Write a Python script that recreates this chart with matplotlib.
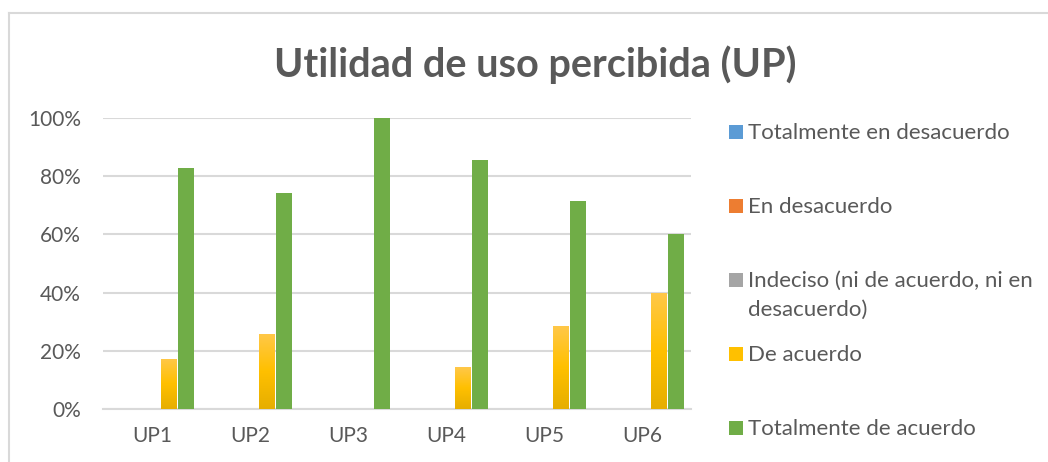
import matplotlib.pyplot as plt
import numpy as np
from matplotlib.lines import Line2D
from matplotlib.patches import Rectangle
from matplotlib.ticker import PercentFormatter

categories = ["UP1", "UP2", "UP3", "UP4", "UP5", "UP6"]

series_names = [
    "Totalmente en desacuerdo",
    "En desacuerdo",
    "Indeciso (ni de acuerdo, ni en\ndesacuerdo)",
    "De acuerdo",
    "Totalmente de acuerdo",
]

totalmente_desacuerdo = [0, 0, 0, 0, 0, 0]
en_desacuerdo = [0, 0, 0, 0, 0, 0]
indeciso = [0, 0, 0, 0, 0, 0]
de_acuerdo = [17.24, 25.93, 0, 14.29, 28.57, 40.0]
totalmente_acuerdo = [82.76, 74.07, 100, 85.71, 71.43, 60.0]

series_values = [
    totalmente_desacuerdo,
    en_desacuerdo,
    indeciso,
    de_acuerdo,
    totalmente_acuerdo,
]

colors = ["#5B9BD5", "#ED7D31", "#A5A5A5", "#FFC000", "#70AD47"]
text_color = "#595959"
grid_color = "#D9D9D9"

plt.rcParams["font.family"] = ["Lato", "DejaVu Sans"]

fig = plt.figure(figsize=(10.48, 4.62), dpi=100)
ax = fig.add_axes([0.0983, 0.1147, 0.5611, 0.6299])

x = np.arange(len(categories))
bar_step = 0.173
bar_width = 0.158

yellow_cmap = plt.matplotlib.colors.LinearSegmentedColormap.from_list(
    "yellow_grad", ["#E6AE00", "#FFC000", "#FFC84A"]
)

for i, (values, color) in enumerate(zip(series_values, colors)):
    offset = (i - 2) * bar_step
    bars = ax.bar(
        x + offset,
        np.array(values) / 100,
        width=bar_width,
        color=color,
        zorder=3,
    )
    if color == "#FFC000":
        # gradient fill like the office chart
        for bar in bars:
            if bar.get_height() <= 0:
                continue
            x0, y0 = bar.get_x(), bar.get_y()
            x1, y1 = x0 + bar.get_width(), y0 + bar.get_height()
            grad = np.linspace(0, 1, 256).reshape(-1, 1)
            img = ax.imshow(
                grad,
                extent=[x0, x1, y0, y1],
                origin="lower",
                aspect="auto",
                cmap=yellow_cmap,
                zorder=4,
            )
            img.set_clip_path(bar)

ax.set_xlim(-0.5, len(categories) - 0.5)
ax.set_ylim(0, 1)
ax.set_xticks(x)
ax.set_xticklabels(categories)
ax.set_yticks(np.linspace(0, 1, 6))
ax.yaxis.set_major_formatter(PercentFormatter(xmax=1, decimals=0))

ax.grid(axis="y", color=grid_color, linewidth=1.5, zorder=0)
for side in ["top", "right", "left"]:
    ax.spines[side].set_visible(False)
ax.spines["bottom"].set_color(grid_color)
ax.spines["bottom"].set_linewidth(1.5)
ax.tick_params(axis="both", length=0, labelsize=15, colors=text_color)
ax.tick_params(axis="y", pad=16)
ax.tick_params(axis="x", pad=12)

fig.text(
    0.511,
    0.86,
    "Utilidad de uso percibida (UP)",
    ha="center",
    va="center",
    fontsize=28.5,
    fontweight="bold",
    color=text_color,
)

# legend drawn by hand to keep the office spacing
legend_top = 1 - 132 / 462
legend_step = 74 / 462
for i, (name, color) in enumerate(zip(series_names, colors)):
    y = legend_top - i * legend_step
    fig.patches.append(
        Rectangle(
            (729 / 1048, y - 7 / 462),
            14 / 1048,
            14 / 462,
            transform=fig.transFigure,
            facecolor=color,
            edgecolor="none",
        )
    )
    fig.text(
        748 / 1048,
        y + 9 / 462,
        name,
        ha="left",
        va="top",
        fontsize=16,
        color=text_color,
        linespacing=1.55,
    )

# chart area border
fig.lines.append(
    Line2D([9 / 1048, 1], [1 - 13 / 462, 1 - 13 / 462],
           transform=fig.transFigure, color=grid_color, linewidth=1.5)
)
fig.lines.append(
    Line2D([9 / 1048, 9 / 1048], [0, 1 - 13 / 462],
           transform=fig.transFigure, color=grid_color, linewidth=1.5)
)

fig.savefig("out.png", dpi=100, facecolor="white")
